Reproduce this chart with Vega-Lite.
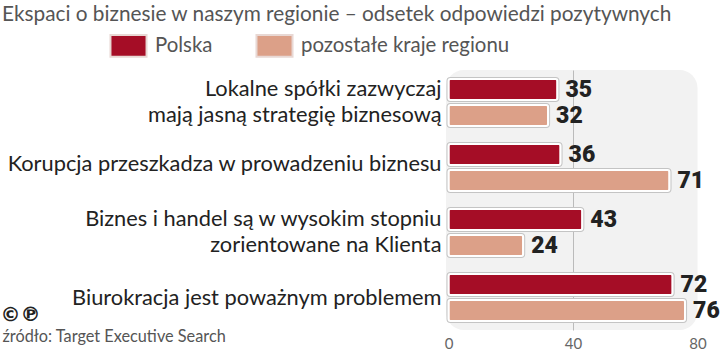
{"$schema":"https://vega.github.io/schema/vega-lite/v6.json","width":251.5,"height":260,"autosize":{"type":"none"},"padding":{"left":446,"top":70,"right":22.5,"bottom":23},"background":"#ffffff","title":{"text":"Ekspaci o biznesie w naszym regionie – odsetek odpowiedzi pozytywnych","anchor":"start","frame":"group","dx":-444,"offset":0,"font":"Lato","fontSize":20.8,"fontWeight":"normal","color":"#555555"},"view":{"fill":"#f2f2f2","stroke":null,"cornerRadius":18},"data":{"values":[{"k":"Lokalne spółki zazwyczaj|mają jasną strategię biznesową","s":"Polska","v":35},{"k":"Lokalne spółki zazwyczaj|mają jasną strategię biznesową","s":"pozostałe kraje regionu","v":32},{"k":"Korupcja przeszkadza w prowadzeniu biznesu","s":"Polska","v":36},{"k":"Korupcja przeszkadza w prowadzeniu biznesu","s":"pozostałe kraje regionu","v":71},{"k":"Biznes i handel są w wysokim stopniu|zorientowane na Klienta","s":"Polska","v":43},{"k":"Biznes i handel są w wysokim stopniu|zorientowane na Klienta","s":"pozostałe kraje regionu","v":24},{"k":"Biurokracja jest poważnym problemem","s":"Polska","v":72},{"k":"Biurokracja jest poważnym problemem","s":"pozostałe kraje regionu","v":76}]},"encoding":{"y":{"field":"k","type":"nominal","sort":null,"scale":{"paddingInner":0,"paddingOuter":0},"axis":{"title":"©℗","titleAngle":0,"titleX":-446,"titleY":244,"titleAlign":"left","titleBaseline":"middle","titleFont":"DejaVu Sans","titleFontSize":20,"titleFontWeight":"bold","titleColor":"#222222","domain":false,"ticks":false,"labelPadding":5,"labelFont":"Lato","labelFontSize":21.8,"labelColor":"#222222","labelLineHeight":26,"labelExpr":"split(datum.label,'|')","labelLimit":0,"labelOffset":{"condition":[{"test":"indexof(datum.value,'|')>=0","value":-14},{"test":"indexof(datum.value,'Korupcja')>=0","value":-4}],"value":0}}},"yOffset":{"field":"s","type":"nominal","sort":null,"scale":{"paddingInner":0.19,"paddingOuter":0.345}},"x":{"field":"v","type":"quantitative","scale":{"domain":[-0.8,80],"nice":false,"zero":false},"axis":{"values":[0,40,80],"title":"źródło: Target Executive Search","titleX":-444,"titleY":11,"titleAlign":"left","titleAnchor":"start","titleBaseline":"alphabetic","titleFont":"Lato","titleFontSize":16.3,"titleFontWeight":"normal","titleColor":"#555555","domain":false,"ticks":false,"labelPadding":6,"labelFont":"Lato","labelFontSize":15,"labelColor":"#666666","grid":true,"gridColor":"#bbbbbb","gridOpacity":{"condition":{"test":"datum.value==40","value":1},"value":0},"labelOverlap":false,"labelFlush":false}}},"layer":[{"mark":{"type":"bar","stroke":"#c4c4c4","strokeWidth":4,"fill":"#c4c4c4","cornerRadius":2}},{"mark":{"type":"bar","stroke":"#ffffff","strokeWidth":2,"cornerRadius":2},"encoding":{"color":{"field":"s","type":"nominal","sort":null,"scale":{"domain":["Polska","pozostałe kraje regionu"],"range":["#a50d26","#dca088"]},"legend":{"title":null,"orient":"none","legendX":-337,"legendY":-44,"direction":"horizontal","columns":2,"symbolType":"M-1,-0.6H1V0.6H-1Z","symbolSize":1300,"symbolStrokeColor":"#e8d8d4","symbolStrokeWidth":2,"labelFont":"Lato","labelFontSize":20.4,"labelOffset":7,"labelColor":"#555555","labelLimit":0,"columnPadding":39,"symbolOpacity":1}}}},{"mark":{"type":"text","align":"left","baseline":"middle","dx":8,"font":"Roboto","fontWeight":900,"fontSize":23,"color":"#222222"},"encoding":{"text":{"field":"v","type":"quantitative"}}}]}
